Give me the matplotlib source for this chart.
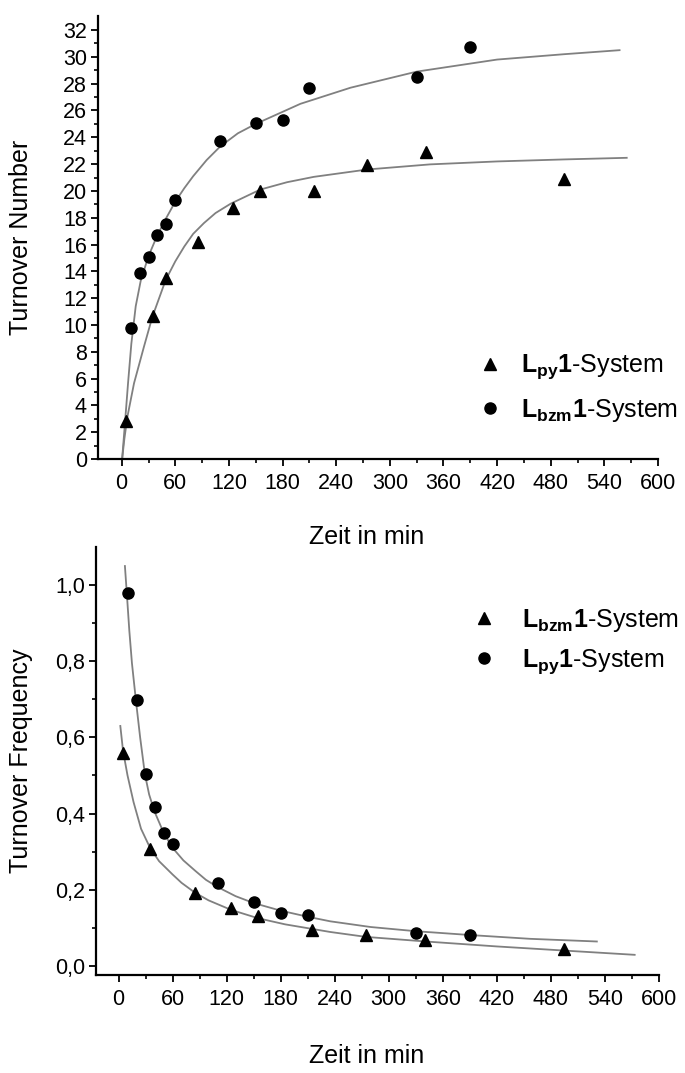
import matplotlib
matplotlib.use("Agg")
import matplotlib.pyplot as plt
from matplotlib.lines import Line2D

plt.rcParams['font.family'] = ['Liberation Sans', 'DejaVu Sans']
plt.rcParams['mathtext.fontset'] = 'custom'
plt.rcParams['mathtext.rm'] = 'Liberation Sans'
plt.rcParams['mathtext.bf'] = 'Liberation Sans:bold'
plt.rcParams['mathtext.it'] = 'Liberation Sans:italic'

# ---- data: turnover number (top) ----
t_bzm = [10, 20, 30, 40, 50, 60, 110, 150, 180, 210, 330, 390]
ton_bzm = [9.8, 13.9, 15.1, 16.7, 17.5, 19.3, 23.7, 25.1, 25.3, 27.7, 28.5, 30.7]
t_py = [5, 35, 50, 85, 125, 155, 215, 275, 340, 495]
ton_py = [2.8, 10.7, 13.5, 16.2, 18.7, 20.0, 20.0, 21.9, 22.9, 20.9]

# fit curves
fit_ton_bzm_x = [0.5, 3.7, 7.1, 10.8, 15.7, 21.3, 29.8, 39.9, 50, 60, 70, 80, 95, 110,
                 130, 150, 200, 256, 330, 420, 495, 557]
fit_ton_bzm_y = [0.0, 2.7, 5.65, 8.6, 11.4, 13.3, 15.1, 16.7, 18.0, 19.2, 20.2, 21.1,
                 22.3, 23.3, 24.3, 25.0, 26.5, 27.7, 28.9, 29.8, 30.2, 30.5]
fit_ton_py_x = [0.5, 3.0, 6.4, 13.8, 25, 34.3, 49.2, 60, 70, 80, 92, 105, 122, 155,
                185, 215, 275, 345, 420, 495, 565]
fit_ton_py_y = [0.0, 1.5, 3.15, 5.65, 8.4, 10.6, 13.35, 14.75, 15.85, 16.8, 17.6, 18.35,
                19.05, 20.1, 20.65, 21.05, 21.6, 21.98, 22.2, 22.35, 22.47]

# ---- data: turnover frequency (bottom) ----
tof_circ_t = [10, 20, 30, 40, 50, 60, 110, 150, 180, 210, 330, 390]
tof_circ = [0.98, 0.697, 0.503, 0.418, 0.350, 0.321, 0.217, 0.167, 0.140, 0.133, 0.087, 0.080]
tof_tri_t = [5, 35, 85, 125, 155, 215, 275, 340, 495]
tof_tri = [0.560, 0.306, 0.191, 0.151, 0.130, 0.095, 0.081, 0.068, 0.045]

fit_tof_circ_x = [7.1, 9.3, 12, 14.9, 19.3, 24, 29.3, 34, 40, 50, 60, 72, 85, 97, 110,
                  130, 150, 180, 210, 235, 280, 330, 390, 457, 531]
fit_tof_circ_y = [1.05, 0.975, 0.88, 0.795, 0.697, 0.60, 0.503, 0.45, 0.405, 0.35, 0.31,
                  0.277, 0.25, 0.226, 0.207, 0.183, 0.165, 0.145, 0.129, 0.117, 0.102,
                  0.091, 0.081, 0.071, 0.064]
fit_tof_tri_x = [2, 5, 10, 16.7, 25, 35, 45, 60, 70, 85, 100, 125, 155, 185, 215, 235,
                 275, 341, 420, 496, 573]
fit_tof_tri_y = [0.63, 0.565, 0.5, 0.43, 0.36, 0.31, 0.275, 0.24, 0.218, 0.192, 0.172,
                 0.147, 0.125, 0.109, 0.097, 0.089, 0.076, 0.064, 0.051, 0.040, 0.029]

x_ticks = [0, 60, 120, 180, 240, 300, 360, 420, 480, 540, 600]
ton_ticks = list(range(0, 33, 2))
tof_ticks = [0.0, 0.2, 0.4, 0.6, 0.8, 1.0]
tof_ticklabels = ['0,0', '0,2', '0,4', '0,6', '0,8', '1,0']

lbl_py = r'$\mathbf{L}_{\mathbf{py}}\mathbf{1}$-System'
lbl_bzm = r'$\mathbf{L}_{\mathbf{bzm}}\mathbf{1}$-System'

W, H = 685, 1073
fig = plt.figure(figsize=(W / 100, H / 100), dpi=100)
ax1 = fig.add_axes([98 / W, 1 - 459 / H, 560 / W, 443 / H])
ax2 = fig.add_axes([96 / W, 1 - 975 / H, 563 / W, 428 / H])

line_c = '#808080'


def style(ax):
    for s in ['top', 'right']:
        ax.spines[s].set_visible(False)
    for s in ['left', 'bottom']:
        ax.spines[s].set_linewidth(1.6)
    ax.tick_params(which='major', length=5, width=1.3, labelsize=15.5)
    ax.tick_params(which='minor', length=3, width=1.2)
    ax.tick_params(axis='x', pad=5)
    ax.tick_params(axis='y', pad=3)
    ax.set_xticks(x_ticks)
    ax.set_xticks(list(range(30, 600, 60)), minor=True)


# top
ax1.plot(fit_ton_bzm_x, fit_ton_bzm_y, color=line_c, lw=1.3, zorder=1)
ax1.plot(fit_ton_py_x, fit_ton_py_y, color=line_c, lw=1.3, zorder=1)
ax1.plot(t_py, ton_py, '^', color='black', ms=9, ls='none', zorder=3)
ax1.plot(t_bzm, ton_bzm, 'o', color='black', ms=8, ls='none', zorder=3)
ax1.set_xlim(-26.5, 600)
ax1.set_ylim(0, 33.05)
style(ax1)
ax1.set_yticks(ton_ticks)
ax1.set_yticks(list(range(1, 33, 2)), minor=True)
ax1.set_xlabel('Zeit in min', fontsize=18)
ax1.xaxis.set_label_coords(0.479, -0.148)
ax1.set_ylabel('Turnover Number', fontsize=18)
ax1.yaxis.set_label_coords(-0.116, 0.5)
h1 = [Line2D([], [], marker='^', color='black', ls='none', ms=9),
      Line2D([], [], marker='o', color='black', ls='none', ms=8)]
ax1.legend(h1, [lbl_py, lbl_bzm], loc='center left', frameon=False, fontsize=18,
           bbox_to_anchor=(461 / W, 1 - 388.5 / H), bbox_transform=fig.transFigure,
           handletextpad=0.6, labelspacing=0.63, borderpad=0, handlelength=1.3)

# bottom
ax2.plot(fit_tof_circ_x, fit_tof_circ_y, color=line_c, lw=1.3, zorder=1)
ax2.plot(fit_tof_tri_x, fit_tof_tri_y, color=line_c, lw=1.3, zorder=1)
ax2.plot(tof_tri_t, tof_tri, '^', color='black', ms=9, ls='none', zorder=3)
ax2.plot(tof_circ_t, tof_circ, 'o', color='black', ms=8, ls='none', zorder=3)
ax2.set_xlim(-25, 600)
ax2.set_ylim(-0.024, 1.10)
style(ax2)
ax2.set_yticks(tof_ticks)
ax2.set_yticklabels(tof_ticklabels)
ax2.set_yticks([0.1, 0.3, 0.5, 0.7, 0.9], minor=True)
ax2.set_xlabel('Zeit in min', fontsize=18)
ax2.xaxis.set_label_coords(0.48, -0.162)
ax2.set_ylabel('Turnover Frequency', fontsize=18)
ax2.yaxis.set_label_coords(-0.112, 0.5)
h2 = [Line2D([], [], marker='^', color='black', ls='none', ms=9),
      Line2D([], [], marker='o', color='black', ls='none', ms=8)]
ax2.legend(h2, [lbl_bzm, lbl_py], loc='center left', frameon=False, fontsize=18,
           bbox_to_anchor=(455 / W, 1 - 641.5 / H), bbox_transform=fig.transFigure,
           handletextpad=0.88, labelspacing=0.55, borderpad=0, handlelength=1.3)

fig.savefig('out.png', dpi=100)
